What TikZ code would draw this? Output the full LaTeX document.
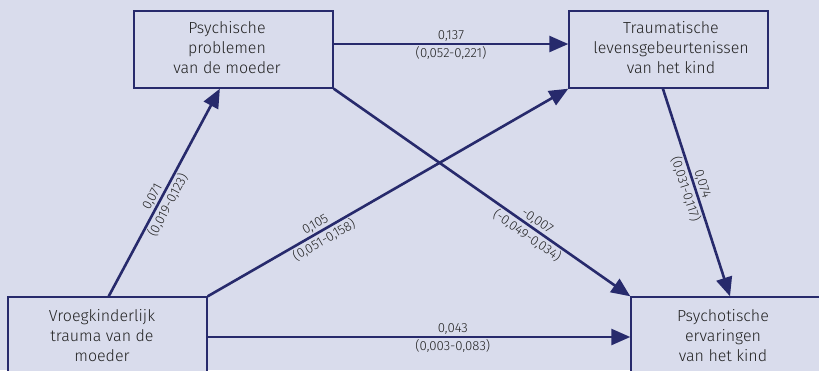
\documentclass[tikz,border=0pt]{standalone}
\usepackage{fontspec}
\setmainfont{Fira Sans Light}
\newfontfamily\labfont{Fira Sans}
\usetikzlibrary{arrows.meta,calc}
\definecolor{bg}{HTML}{D9DCEC}
\definecolor{navy}{HTML}{272A6C}
\definecolor{txt}{HTML}{222222}
\tikzset{
  box/.style={draw=navy, line width=1.4pt, fill=bg, rectangle, inner sep=0pt},
  btxt/.style={text=txt, align=center, font=\fontsize{16}{20}\selectfont, inner sep=0pt},
  conn/.style={draw=navy, line width=2.6pt, -{Triangle[length=19pt,width=16pt]}},
  lab/.style={text=txt, font=\fontsize{13.2}{15}\selectfont, inner sep=1.2pt, sloped}
}
\begin{document}
\begin{tikzpicture}[x=1pt,y=-1pt]
\fill[bg] (0,0) rectangle (819,370);
\clip (0,0) rectangle (819,370);
\useasboundingbox (0,0) rectangle (819,370);
% boxes
\node[box, minimum width=199pt, minimum height=77pt] (P) at (233.5,49.5) {};
\node[btxt] (Pt) at (227,48) {Psychische\\problemen\\van de moeder};
\node[box, minimum width=199pt, minimum height=77pt] (T) at (668.5,49.5) {};
\node[btxt] (Tt) at (671,48) {Traumatische\\levensgebeurtenissen\\van het kind};
\node[box, minimum width=199pt, minimum height=80pt] (V) at (107.5,337) {};
\node[btxt] (Vt) at (102,336) {Vroegkinderlijk\\trauma van de\\moeder};
\node[box, minimum width=200pt, minimum height=80pt] (S) at (731,337) {};
\node[btxt] (St) at (723,336) {Psychotische\\ervaringen\\van het kind};
% anchor coordinates
\coordinate (Vtop) at ($(V.north west)!0.506!(V.north east)$);
\coordinate (Pbot) at ($(P.south west)!0.432!(P.south east)$);
\coordinate (Tbot) at ($(T.south west)!0.472!(T.south east)$);
\coordinate (Stop) at ($(S.north west)!0.495!(S.north east)$);
\coordinate (Pr) at ($(P.north east)!0.43!(P.south east)$);
\coordinate (Tl) at ($(T.north west)!0.43!(T.south west)$);
\coordinate (Vr) at ($(V.north east)!0.5!(V.south east)$);
\coordinate (Sl) at ($(S.north west)!0.5!(S.south west)$);
% connectors
\draw[conn] (Pr) -- node[lab, above, pos=0.5]{0,137} node[lab, below, pos=0.5]{(0,052-0,221)} (Tl);
\draw[conn] (Vtop) -- node[lab, above, pos=0.46]{0,071} node[lab, below, pos=0.46]{(0,019-0,123)} (Pbot);
\draw[conn] (V.north east) -- node[lab, above, pos=0.31]{0,105} node[lab, below, pos=0.31]{(0,051-0,158)} (T.south west);
\draw[conn] (P.south east) -- node[lab, above, pos=0.67]{-0,007} node[lab, below, pos=0.67]{(-0,049-0,034)} (S.north west);
\draw[conn] (Tbot) -- node[lab, above, pos=0.47]{0,074} node[lab, below, pos=0.47]{(0,031-0,117)} (Stop);
\draw[conn] (Vr) -- node[lab, above, pos=0.58]{0,043} node[lab, below, pos=0.58]{(0,003-0,083)} (Sl);
\end{tikzpicture}
\end{document}
